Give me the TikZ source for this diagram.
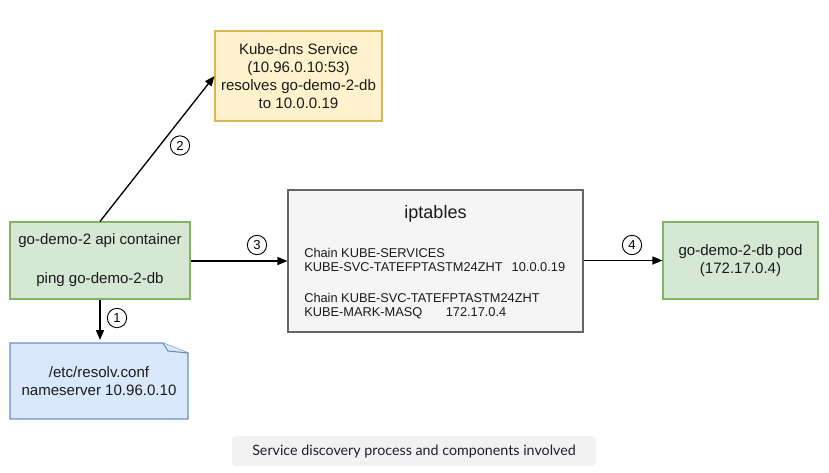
\documentclass[tikz,border=0pt]{standalone}
\usepackage{fontspec}
\setmainfont{Liberation Sans}
\newfontfamily\capfont{Lato}
\usetikzlibrary{arrows.meta}
\definecolor{gfill}{HTML}{D5E8D4}
\definecolor{gdraw}{HTML}{82B366}
\definecolor{yfill}{HTML}{FFF2CC}
\definecolor{ydraw}{HTML}{D6B656}
\definecolor{bfill}{HTML}{DAE8FC}
\definecolor{bdraw}{HTML}{6C8EBF}
\definecolor{ifill}{HTML}{F5F5F5}
\definecolor{idraw}{HTML}{666666}
\definecolor{capfill}{HTML}{F2F2F2}
\definecolor{captext}{HTML}{1E1E32}
\definecolor{txt}{HTML}{1A1A1A}
\begin{document}
\begin{tikzpicture}[x=0.75pt,y=-0.75pt,
  box/.style={draw, line width=0.8pt, inner sep=0pt, align=center, text=txt,
    font=\fontsize{11.3}{13.5}\selectfont},
  conn/.style={draw, line width=1pt, -{Triangle[length=7.5pt,width=6pt]}},
  num/.style={circle, draw, line width=0.7pt, inner sep=0pt, minimum size=14.5pt,
    font=\fontsize{9.8}{10}\selectfont},
  itext/.style={anchor=west, inner sep=0pt, align=left, text=txt,
    font=\fontsize{9.6}{10.5}\selectfont}
]
\useasboundingbox (0,0) rectangle (829,472);
\fill[white] (0,0) rectangle (829,472);

% api container
\node[box, fill=gfill, draw=gdraw, minimum width=135pt, minimum height=57.75pt]
  (api) at (100,260.5) {go-demo-2 api container\\[15.75pt]ping go-demo-2-db};

% kube-dns
\node[box, fill=yfill, draw=ydraw, minimum width=125.25pt, minimum height=67.5pt]
  (dns) at (298.5,76) {Kube-dns Service\\(10.96.0.10:53)\\resolves go-demo-2-db\\to 10.0.0.19};

% iptables
\node[box, fill=ifill, draw=idraw, minimum width=221.25pt, minimum height=106.5pt]
  (ipt) at (435.5,261) {};
\node[inner sep=0pt, text=txt, font=\fontsize{13.5}{15}\selectfont] (ipttitle) at (435.5,214) {iptables};
\node[itext] (c1) at (304,260.3) {Chain KUBE-SERVICES\\KUBE-SVC-TATEFPTASTM24ZHT\hspace{6.8pt}10.0.0.19};
\node[itext] (c2) at (304,306.3) {Chain KUBE-SVC-TATEFPTASTM24ZHT\\KUBE-MARK-MASQ\hspace{17.6pt}172.17.0.4};

% pod
\node[box, fill=gfill, draw=gdraw, minimum width=116.25pt, minimum height=57.75pt]
  (pod) at (740.5,260.5) {go-demo-2-db pod\\(172.17.0.4)};

% resolv.conf note
\fill[bfill] (10,343) -- (163,343) -- (188,353) -- (188,419) -- (10,419) -- cycle;
\draw[bdraw, line width=0.8pt] (10,343) -- (163,343) -- (188,353) -- (188,419) -- (10,419) -- cycle;
\draw[bdraw, line width=0.8pt, fill=bfill] (163,343) -- (168,351) -- (188,353);
\node[align=center, inner sep=0pt, text=txt, font=\fontsize{11.3}{13.5}\selectfont]
  (note) at (99,381) {/etc/resolv.conf\\nameserver 10.96.0.10};
\coordinate (notetop) at (100,340);

% connectors
\draw[conn] (api.south) -- (notetop);
\draw[conn] (api.north) -- (dns.west);
\draw[conn] (api.east |- ipt.west) -- (ipt.west);
\draw[conn] (ipt.east |- pod.west) -- (pod.west);

% step numbers
\node[num] (n1) at (117,318) {1};
\node[num] (n2) at (180,145.5) {2};
\node[num] (n3) at (257,245) {3};
\node[num] (n4) at (632,245) {4};

% caption
\node[fill=capfill, rounded corners=3pt, minimum width=273pt, minimum height=22.5pt,
  inner sep=0pt, text=captext, font=\capfont\fontsize{10.7}{12}\selectfont]
  (cap) at (414,451) {Service discovery process and components involved};
\end{tikzpicture}
\end{document}
